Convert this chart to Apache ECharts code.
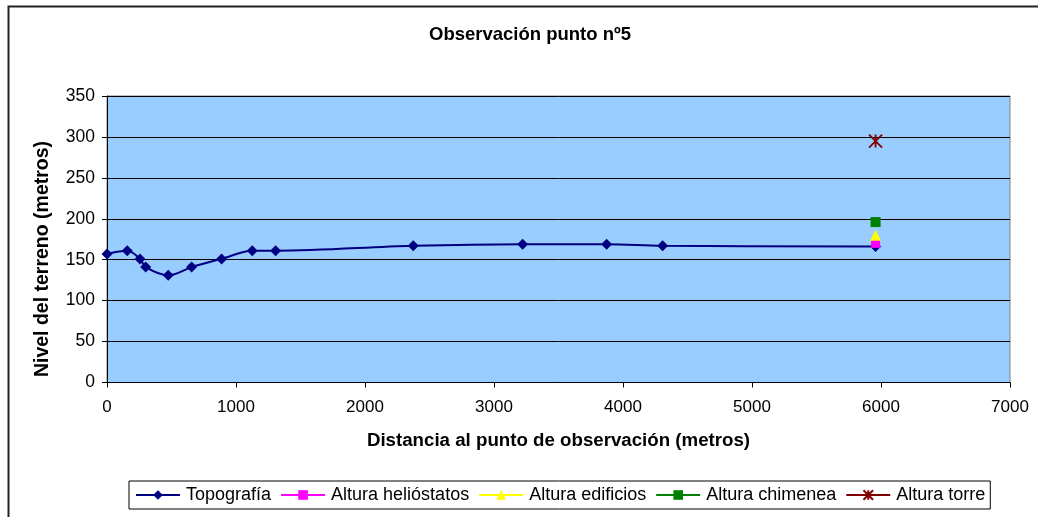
<!DOCTYPE html>
<html>
<head>
<meta charset="utf-8">
<script src="https://cdn.jsdelivr.net/npm/echarts@6/dist/echarts.min.js"></script>
<style>
  html, body { margin: 0; padding: 0; background: #fff; }
  #chart { width: 1038px; height: 517px; }
</style>
</head>
<body>
<div id="chart"></div>
<script>
// Terrain profile: distance (m) and ground level (m)
const distancias = [0, 157, 256, 300, 475, 656, 888, 1126, 1307, 2374, 3222, 3873, 4307, 5958];
const niveles    = [157, 161, 151, 141, 131, 141, 151, 161, 161, 167, 169, 169, 167, 166];

// Heights at the observed plant location
const xPlanta = 5958;
const alturaHeliostatos = 170;
const alturaEdificios = 180;
const alturaChimenea = 196;
const alturaTorre = 295;

const nombres = ['Topografía', 'Altura helióstatos', 'Altura edificios', 'Altura chimenea', 'Altura torre'];
const yTicks = [0, 50, 100, 150, 200, 250, 300, 350];
const xTicks = [0, 1000, 2000, 3000, 4000, 5000, 6000, 7000];

const FONT = '"Liberation Sans", Arial, sans-serif';

const topografia = distancias.map((d, i) => [d, niveles[i]]);

const chart = echarts.init(document.getElementById('chart'), null, { renderer: 'canvas' });

function punto(name, y, symbol, size, color, extra) {
  return Object.assign({
    name: name,
    type: 'line',
    data: [[xPlanta, y]],
    symbol: symbol,
    symbolSize: size,
    itemStyle: { color: color },
    lineStyle: { color: color, width: 2 },
    z: 3
  }, extra || {});
}

chart.setOption({
  animation: false,
  backgroundColor: '#ffffff',
  title: {
    text: 'Observación punto nº5',
    left: 424,
    top: 20,
    textStyle: { fontFamily: FONT, fontSize: 18.5, fontWeight: 'bold', color: '#000' }
  },
  graphic: [
    {
      // outer chart frame
      type: 'rect',
      shape: { x: 8.5, y: 6.5, width: 1100, height: 600 },
      style: { fill: 'none', stroke: '#222', lineWidth: 2 },
      silent: true
    },
    {
      // vertical axis title
      type: 'text',
      x: 43,
      y: 259,
      rotation: Math.PI / 2,
      style: {
        text: 'Nivel del terreno (metros)',
        fontFamily: FONT,
        fontSize: 19.5,
        fontWeight: 'bold',
        fill: '#000',
        textAlign: 'center',
        textVerticalAlign: 'middle'
      },
      silent: true
    }
  ],
  grid: {
    left: 107, right: 28, top: 96, bottom: 134.5,
    show: true,
    backgroundColor: '#99CCFF',
    borderColor: '#808080',
    borderWidth: 1
  },
  legend: {
    bottom: 8,
    left: 129,
    data: nombres,
    itemWidth: 44,
    itemHeight: 12,
    itemGap: 9,
    padding: [5, 5, 5, 6],
    borderColor: '#000',
    borderWidth: 1,
    textStyle: { fontFamily: FONT, fontSize: 18, color: '#000', padding: [0, 0, 0, 1] }
  },
  xAxis: {
    type: 'value',
    min: 0, max: 7000, interval: 1000,
    name: 'Distancia al punto de observación (metros)',
    nameLocation: 'middle',
    nameGap: 49,
    nameTextStyle: { fontFamily: FONT, fontSize: 18.7, fontWeight: 'bold', color: '#000' },
    axisLine: { show: true, lineStyle: { color: '#000', width: 1 } },
    axisTick: { show: true, length: 5, lineStyle: { color: '#000' } },
    axisLabel: {
      fontFamily: FONT, fontSize: 17, color: '#000', margin: 16,
      formatter: v => xTicks.includes(v) ? String(v) : ''
    },
    splitLine: { show: false }
  },
  yAxis: {
    type: 'value',
    min: 0, max: 350, interval: 50,
    axisLine: { show: true, lineStyle: { color: '#000', width: 1 } },
    axisTick: { show: true, length: 5, lineStyle: { color: '#000' } },
    axisLabel: {
      fontFamily: FONT, fontSize: 17.5, color: '#000', margin: 12,
      formatter: v => yTicks.includes(v) ? String(v) : ''
    },
    splitLine: { show: true, lineStyle: { color: '#000', width: 1 } }
  },
  series: [
    {
      name: 'Topografía',
      type: 'line',
      data: topografia,
      smooth: 0.35,
      symbol: 'diamond',
      symbolSize: 11,
      itemStyle: { color: '#000080' },
      lineStyle: { color: '#000080', width: 2 },
      z: 2
    },
    punto('Altura helióstatos', alturaHeliostatos, 'rect', 9, '#FF00FF'),
    punto('Altura edificios', alturaEdificios, 'triangle', 11, '#FFFF00'),
    punto('Altura chimenea', alturaChimenea, 'rect', 10, '#008000'),
    punto('Altura torre', alturaTorre, 'path://M0,0 L10,10 M10,0 L0,10 M5,0 L5,10', 13, '#800000', {
      itemStyle: { color: 'none', borderColor: '#800000', borderWidth: 1.8 }
    })
  ]
});
</script>
</body>
</html>
